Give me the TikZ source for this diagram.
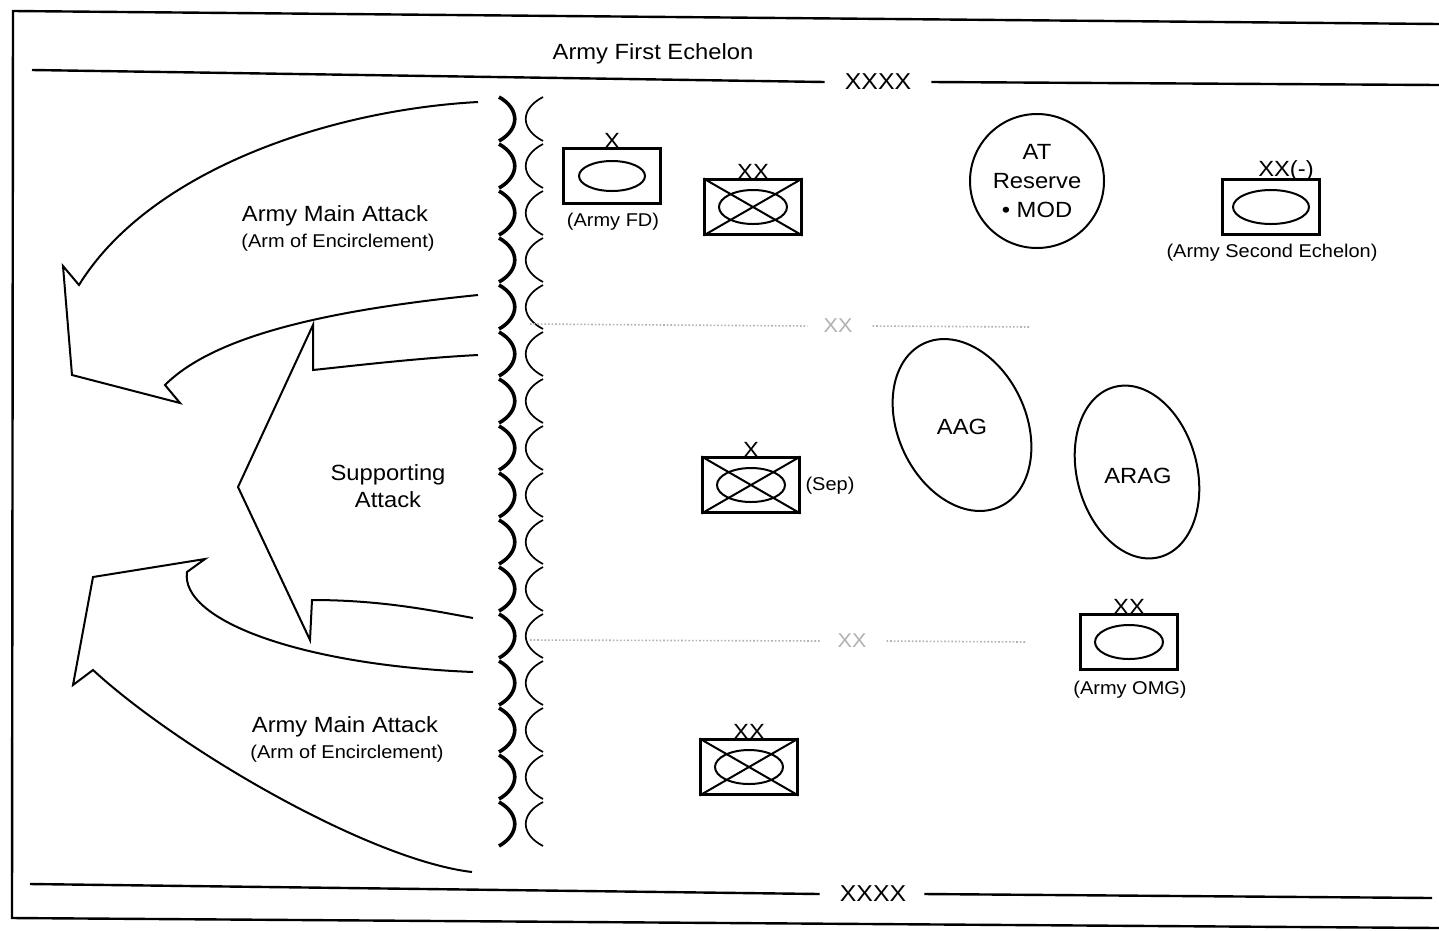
\documentclass[tikz,border=0pt]{standalone}
\usepackage{fontspec}
\setmainfont{Liberation Sans}[FakeStretch=1.08]
\usetikzlibrary{shapes.geometric}
\tikzset{
  unitbox/.style={draw, line width=2.2pt, minimum width=97pt, minimum height=55pt, inner sep=0pt},
  sym/.style={font=\fontsize{22}{24}\selectfont, inner sep=0pt, anchor=south, yshift=-1pt},
  bigtxt/.style={font=\fontsize{22}{27}\selectfont, align=center, inner sep=0pt},
  smalltxt/.style={font=\fontsize{18.5}{20}\selectfont, inner sep=0pt},
  echlbl/.style={font=\fontsize{23}{25}\selectfont, inner sep=0pt},
  echline/.style={line width=2.4pt},
  attack/.style={line width=2pt, line join=miter},
  bnd/.style={gray!60, dotted, line width=1.6pt},
  bndlbl/.style={gray!60, font=\fontsize{20}{22}\selectfont, inner sep=0pt},
  enemy/.style={line width=3.6pt},
  own/.style={line width=1.7pt},
  shapeline/.style={line width=2pt}
}
\begin{document}
\begin{tikzpicture}[x=1pt,y=-1pt]
\useasboundingbox (0,0) rectangle (1439,930);
\fill[white] (0,0) rectangle (1439,930);
% frame
\draw[line width=2.4pt] (1439,24) -- (13,11) -- (12,918) -- (1439,928);
% title
\node[bigtxt] (title) at (653,54) {Army First Echelon};
% echelon boundaries
\node[echlbl] (ecT) at (878,82) {XXXX};
\coordinate (ecTl) at (32,70);
\coordinate (ecTr) at (1439,85);
\draw[echline] (ecTl) -- ([xshift=-20pt]ecT.west);
\draw[echline] ([xshift=20pt]ecT.east) -- (ecTr);
\node[echlbl] (ecB) at (873,894) {XXXX};
\coordinate (ecBl) at (30,884);
\coordinate (ecBr) at (1432,898);
\draw[echline] (ecBl) -- ([xshift=-20pt]ecB.west);
\draw[echline] ([xshift=18pt]ecB.east) -- (ecBr);
% contact line
\foreach \i in {0,...,15}{
  \pgfmathsetmacro{\yy}{97+47*\i}
  \draw[enemy] (499,\yy) .. controls (520,\yy+12) and (520,\yy+32) .. (499,\yy+44);
  \draw[own] (543,\yy) .. controls (520,\yy+12) and (520,\yy+32) .. (543,\yy+44);
}
% division boundaries
\node[bndlbl] (bd1) at (838,326) {XX};
\coordinate (bd1l) at (530,324);
\coordinate (bd1r) at (1030,327);
\draw[bnd] (bd1l) -- ([xshift=-16pt]bd1.west);
\draw[bnd] ([xshift=20pt]bd1.east) -- (bd1r);
\node[bndlbl] (bd2) at (852,641) {XX};
\coordinate (bd2l) at (530,640);
\coordinate (bd2r) at (1025,642);
\draw[bnd] (bd2l) -- ([xshift=-16pt]bd2.west);
\draw[bnd] ([xshift=20pt]bd2.east) -- (bd2r);
% attack arrows
\draw[attack] (478,102) .. controls (330,110) and (150,170) .. (79,285) -- (63,266) -- (72,375) -- (180,403) -- (165,385) .. controls (215,335) and (330,310) .. (478,295);
\draw[attack] (478,355) .. controls (420,358) and (360,365) .. (313,370) -- (313,325) -- (238,487) -- (310,640) -- (312,600) .. controls (380,600) and (430,610) .. (473,618);
\draw[attack] (472,872) .. controls (370,860) and (180,750) .. (93,670) -- (73,685) -- (93,577) -- (205,559) -- (187,572) .. controls (180,620) and (300,665) .. (473,672);
\node[bigtxt] (ma1) at (335,216) {Army Main Attack};
\node[smalltxt] (ma1s) at (338,243) {(Arm of Encirclement)};
\node[bigtxt] (sa) at (388,486) {Supporting\\Attack};
\node[bigtxt] (ma2) at (345,727) {Army Main Attack};
\node[smalltxt] (ma2s) at (347,754) {(Arm of Encirclement)};
% Army FD
\node[unitbox] (fd) at (612,176) {};
\draw[shapeline] (fd.center) ellipse [x radius=33, y radius=15];
\node[sym] (fdx) at (fd.north) {X};
\node[smalltxt] (fdl) at (613,222) {(Army FD)};
% XX top
\node[unitbox] (d1) at (753,207) {};
\draw[shapeline] (d1.center) ellipse [x radius=34, y radius=17];
\draw[shapeline] (d1.north west) -- (d1.south east) (d1.south west) -- (d1.north east);
\node[sym] (d1x) at (d1.north) {XX};
% Sep brigade
\node[unitbox] (sep) at (751,485) {};
\draw[shapeline] (sep.center) ellipse [x radius=34, y radius=17];
\draw[shapeline] (sep.north west) -- (sep.south east) (sep.south west) -- (sep.north east);
\node[sym] (sepx) at (sep.north) {X};
\node[smalltxt] (sepl) at (830,486) {(Sep)};
% XX bottom
\node[unitbox] (d2) at (749,767) {};
\draw[shapeline] (d2.center) ellipse [x radius=34, y radius=17];
\draw[shapeline] (d2.north west) -- (d2.south east) (d2.south west) -- (d2.north east);
\node[sym] (d2x) at (d2.north) {XX};
% AT reserve
\node[circle, draw, line width=2pt, minimum size=134pt, inner sep=0pt, align=center, font=\fontsize{22}{29}\selectfont] (at) at (1037,181) {AT\\Reserve\\• MOD};
% second echelon
\node[unitbox] (se) at (1271,207) {};
\draw[shapeline] (se.center) ellipse [x radius=38, y radius=17];
\node[sym] (sex) at (1286,180) {XX(-)};
\node[smalltxt] (sel) at (1272,253) {(Army Second Echelon)};
% AAG / ARAG
\draw[shapeline, rotate around={25:(962,425)}] (962,425) ellipse [x radius=64, y radius=90];
\node[bigtxt] (aag) at (962,427) {AAG};
\draw[shapeline, rotate around={15:(1137,472)}] (1137,472) ellipse [x radius=60, y radius=88];
\node[bigtxt] (arag) at (1138,476) {ARAG};
% OMG
\node[unitbox] (omg) at (1129,642) {};
\draw[shapeline] (omg.center) ellipse [x radius=34, y radius=17];
\node[sym] (omgx) at (omg.north) {XX};
\node[smalltxt] (omgl) at (1130,690) {(Army OMG)};
\end{tikzpicture}
\end{document}
